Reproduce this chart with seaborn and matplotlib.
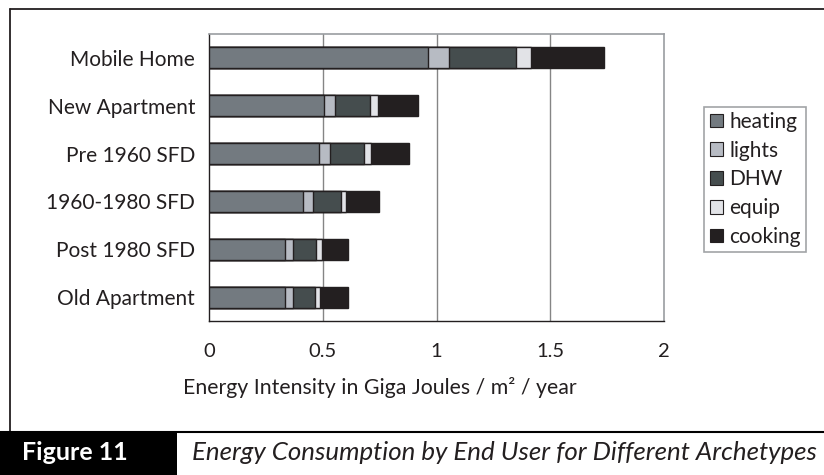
import numpy as np
import pandas as pd
import matplotlib
matplotlib.use("Agg")
import matplotlib.pyplot as plt
import seaborn as sns
from matplotlib.patches import Patch, Rectangle
from matplotlib.lines import Line2D

# --- DADOS ---
archetypes = ["Mobile Home", "New Apartment", "Pre 1960 SFD",
              "1960-1980 SFD", "Post 1980 SFD", "Old Apartment"]
end_uses = ["heating", "lights", "DHW", "equip", "cooking"]

heating = [0.962, 0.507, 0.483, 0.413, 0.333, 0.333]
lights = [0.094, 0.049, 0.050, 0.044, 0.036, 0.036]
dhw = [0.294, 0.153, 0.147, 0.123, 0.102, 0.099]
equip = [0.067, 0.032, 0.032, 0.024, 0.027, 0.018]
cooking = [0.320, 0.177, 0.165, 0.143, 0.111, 0.123]

x_ticks = [0, 0.5, 1, 1.5, 2]
x_ticklabels = ["0", "0.5", "1", "1.5", "2"]

cores = ["#737a80", "#b7bbc3", "#454d4e", "#e2e3e7", "#231f20"]
EDGE = "#231f20"

df = pd.DataFrame({"archetype": archetypes, "heating": heating, "lights": lights,
                   "DHW": dhw, "equip": equip, "cooking": cooking})
acumulado = df[end_uses].cumsum(axis=1)

sns.set_theme(style="white")
plt.rcParams["font.family"] = ["Lato", "DejaVu Sans"]

W, H = 824, 475
fig = plt.figure(figsize=(W / 100, H / 100), dpi=100)
ax = fig.add_axes([209 / W, 1 - 321 / H, (664 - 209) / W, (321 - 34) / H])

# barras empilhadas: desenha do total para o primeiro segmento
for uso, cor in reversed(list(zip(end_uses, cores))):
    sns.barplot(x=acumulado[uso], y=df["archetype"], order=archetypes, orient="h",
                color=cor, width=0.44, edgecolor=EDGE, linewidth=1.0,
                saturation=1, ax=ax, zorder=3)

ax.set_xlim(0, 2)
ax.set_ylim(5.5, -0.5)
ax.set_xticks(x_ticks)
ax.set_xticklabels(x_ticklabels, fontsize=14.5, color="#231f20")
ax.set_xlabel("")
ax.set_ylabel("")
ax.tick_params(axis="y", which="major", length=0, pad=10, labelsize=15,
               labelcolor="#231f20")
ax.set_yticks(np.arange(-0.5, 6, 1), minor=True)
ax.tick_params(axis="y", which="minor", length=4, width=0.8, color=EDGE, direction="out")
ax.tick_params(axis="x", which="major", length=4, width=0.8, color=EDGE, direction="out",
               pad=12)

for xv in x_ticks[1:-1]:
    ax.axvline(xv, color="#858585", linewidth=1.0, zorder=1)

for lado in ["left", "bottom"]:
    ax.spines[lado].set_color(EDGE)
    ax.spines[lado].set_linewidth(1.0)
for lado in ["top", "right"]:
    ax.spines[lado].set_color("#9a9da1")
    ax.spines[lado].set_linewidth(1.2)
    ax.spines[lado].set_visible(True)

fig.text(183 / W, 1 - 388 / H, "Energy Intensity in Giga Joules / m\u00b2 / year",
         fontsize=15.3, color="#231f20", va="center", ha="left")

# legenda
handles = [Patch(facecolor=c, edgecolor=EDGE, linewidth=0.8, label=u)
           for u, c in zip(end_uses, cores)]
leg = fig.legend(handles=handles, loc="lower right",
                 bbox_to_anchor=(806 / W, 1 - 252 / H), frameon=True, fancybox=False,
                 fontsize=15, handlelength=0.65, handleheight=0.65, handletextpad=0.3,
                 labelspacing=0.42, borderpad=0.25, borderaxespad=0)
leg.get_frame().set_edgecolor("#8a8d91")
leg.get_frame().set_linewidth(1.2)
for t in leg.get_texts():
    t.set_color("#231f20")

# moldura externa e faixa da figura
fig.add_artist(Line2D([10 / W, 1], [1 - 9 / H, 1 - 9 / H], color=EDGE, linewidth=1.3,
                      transform=fig.transFigure))
fig.add_artist(Line2D([10 / W, 10 / W], [1 - 9 / H, 1 - 432 / H], color=EDGE,
                      linewidth=1.3, transform=fig.transFigure))
fig.add_artist(Line2D([0, 1], [1 - 432 / H, 1 - 432 / H], color="black", linewidth=1.5,
                      transform=fig.transFigure))
fig.add_artist(Rectangle((0, 0), 177 / W, 1 - 432 / H, facecolor="black",
                         edgecolor="none", transform=fig.transFigure))
fig.text(22 / W, 1 - 453 / H, "Figure 11", color="white", fontsize=18,
         fontweight="bold", va="center", ha="left")
fig.text(192 / W, 1 - 453 / H, "Energy Consumption by End User for Different Archetypes",
         color="#231f20", fontsize=18.6, fontstyle="italic", va="center", ha="left")

fig.savefig("out.png", dpi=100)
